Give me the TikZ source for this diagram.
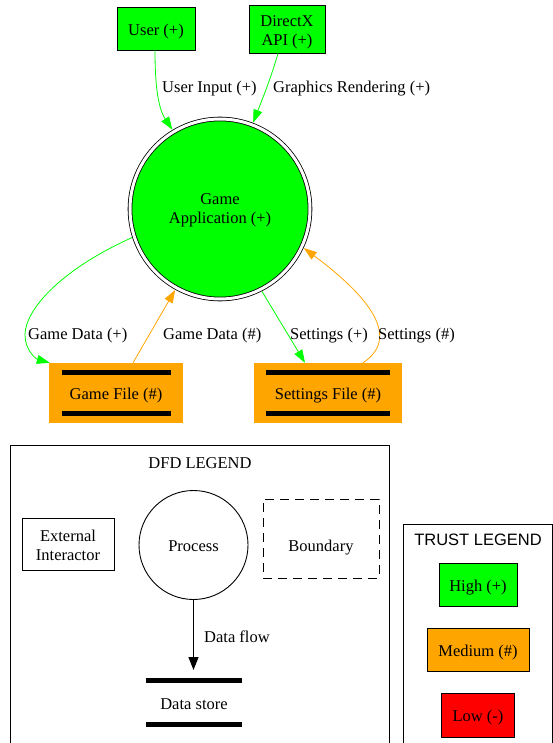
\documentclass[tikz,border=0pt]{standalone}
\usepackage{fontspec}
\setmainfont{Liberation Serif}
\newfontfamily\helv{Liberation Sans}
\usetikzlibrary{arrows.meta}
\definecolor{trustgreen}{RGB}{0,255,0}
\definecolor{trustorange}{RGB}{255,165,0}
\definecolor{trustred}{RGB}{255,0,0}
\newcommand{\topstrut}[1]{\rule{0pt}{#1}}
\begin{document}
\begin{tikzpicture}[x=1pt,y=-1pt,
  font=\fontsize{16.5}{19}\selectfont,
  tx/.style={text height=13.6pt, text depth=0pt},
  entbox/.style={draw, line width=0.9pt, inner sep=0pt, align=center},
  storebox/.style={fill=trustorange, draw=none, inner sep=0pt, minimum height=60pt, tx},
  storeline/.style={line width=5pt},
  flow/.style={line width=0.8pt, -{Triangle[length=13pt,width=9pt]}},
  lbl/.style={anchor=west, inner sep=0pt, tx},
  legendbox/.style={draw, line width=0.9pt, anchor=north west, inner sep=0pt}]
\useasboundingbox (0,0) rectangle (553,743);

% external interactors
\node[entbox, tx, fill=trustgreen, minimum width=78pt, minimum height=43pt] (user) at (156,28.5) {User (+)};
\node[entbox, fill=trustgreen, minimum width=76pt, minimum height=48pt] (dx) at (287,29) {\topstrut{17pt}DirectX\\API (+)};

% process
\node[circle, draw, double, double distance=3pt, line width=0.8pt, fill=trustgreen,
  minimum size=180pt, inner sep=0pt, outer sep=2.5pt, align=center] (app) at (220,209) {\topstrut{13.5pt}Game\\Application (+)};

% data stores
\node[storebox, minimum width=134pt] (gf) at (116,393) {Game File (\#)};
\draw[storeline] ([xshift=13pt,yshift=-10pt]gf.north west) -- ([xshift=-12pt,yshift=-10pt]gf.north east);
\draw[storeline] ([xshift=13pt,yshift=10pt]gf.south west) -- ([xshift=-12pt,yshift=10pt]gf.south east);
\node[storebox, minimum width=148pt] (sf) at (328,393) {Settings File (\#)};
\draw[storeline] ([xshift=12pt,yshift=-10pt]sf.north west) -- ([xshift=-12pt,yshift=-10pt]sf.north east);
\draw[storeline] ([xshift=12pt,yshift=10pt]sf.south west) -- ([xshift=-12pt,yshift=10pt]sf.south east);

% flows
\draw[flow, trustgreen] ([xshift=-1pt]user.south) .. controls (155,85) and (158,108) .. (app.121);
\draw[flow, trustgreen] ([xshift=-9pt]dx.south) .. controls (271,78) and (262,100) .. (app.69);
\draw[flow, trustgreen] (app.198) .. controls (60,270) and (25,310) .. (25,335)
   .. controls (25,350) and (36,359) .. ([xshift=1pt]gf.north west);
\draw[flow, trustorange] ([xshift=17pt]gf.north) -- (app.241);
\draw[flow, trustgreen] (app.297) -- ([xshift=-23pt]sf.north);
\draw[flow, trustorange] ([xshift=35pt]sf.north) .. controls (405,335) and (360,290) .. (app.335);

\node[lbl] (l1) at (162,86) {User Input (+)};
\node[lbl] (l2) at (273,86) {Graphics Rendering (+)};
\node[lbl] (l3) at (28,333) {Game Data (+)};
\node[lbl] (l4) at (163,333) {Game Data (\#)};
\node[lbl] (l5) at (290,333) {Settings (+)};
\node[lbl] (l6) at (378,333) {Settings (\#)};

% DFD legend
\node[legendbox, minimum width=379pt, minimum height=320pt] (dfd) at (10,444.5) {};
\node[tx] (dfdt) at (200,462) {DFD LEGEND};
\node[entbox, minimum width=92pt, minimum height=52pt] (ext) at (68,544) {\topstrut{13.5pt}External\\Interactor};
\node[circle, draw, tx, line width=0.9pt, minimum size=109pt, inner sep=0pt] (proc) at (193.5,545) {Process};
\node[draw, text height=26.6pt, text depth=0pt, dashed, dash pattern=on 9pt off 6pt, line width=0.9pt, minimum width=116pt, minimum height=79pt, inner sep=0pt] (bnd) at (321,538.5) {Boundary};
\node[tx] (ds) at (194,703) {Data store};
\draw[storeline] ([xshift=-48pt,yshift=23pt]ds.center) -- ([xshift=48pt,yshift=23pt]ds.center);
\draw[storeline] ([xshift=-48pt,yshift=-21pt]ds.center) -- ([xshift=48pt,yshift=-21pt]ds.center);
\coordinate (dsin) at (193.5,670);
\draw[line width=1.2pt, -{Triangle[length=13pt,width=10pt]}] (proc) -- (dsin);
\node[lbl] (l7) at (204,636) {Data flow};

% Trust legend
\node[legendbox, minimum width=149pt, minimum height=240pt] (trust) at (403,524) {};
\node[tx] (trt) at (478,539) {\helv TRUST LEGEND};
\node[entbox, tx, fill=trustgreen, minimum width=78pt, minimum height=43pt] (hi) at (478,585) {High (+)};
\node[entbox, tx, fill=trustorange, minimum width=102pt, minimum height=43pt] (med) at (478,650) {Medium (\#)};
\node[entbox, tx, fill=trustred, minimum width=73pt, minimum height=44pt] (low) at (478,715) {Low (-)};
\end{tikzpicture}
\end{document}
